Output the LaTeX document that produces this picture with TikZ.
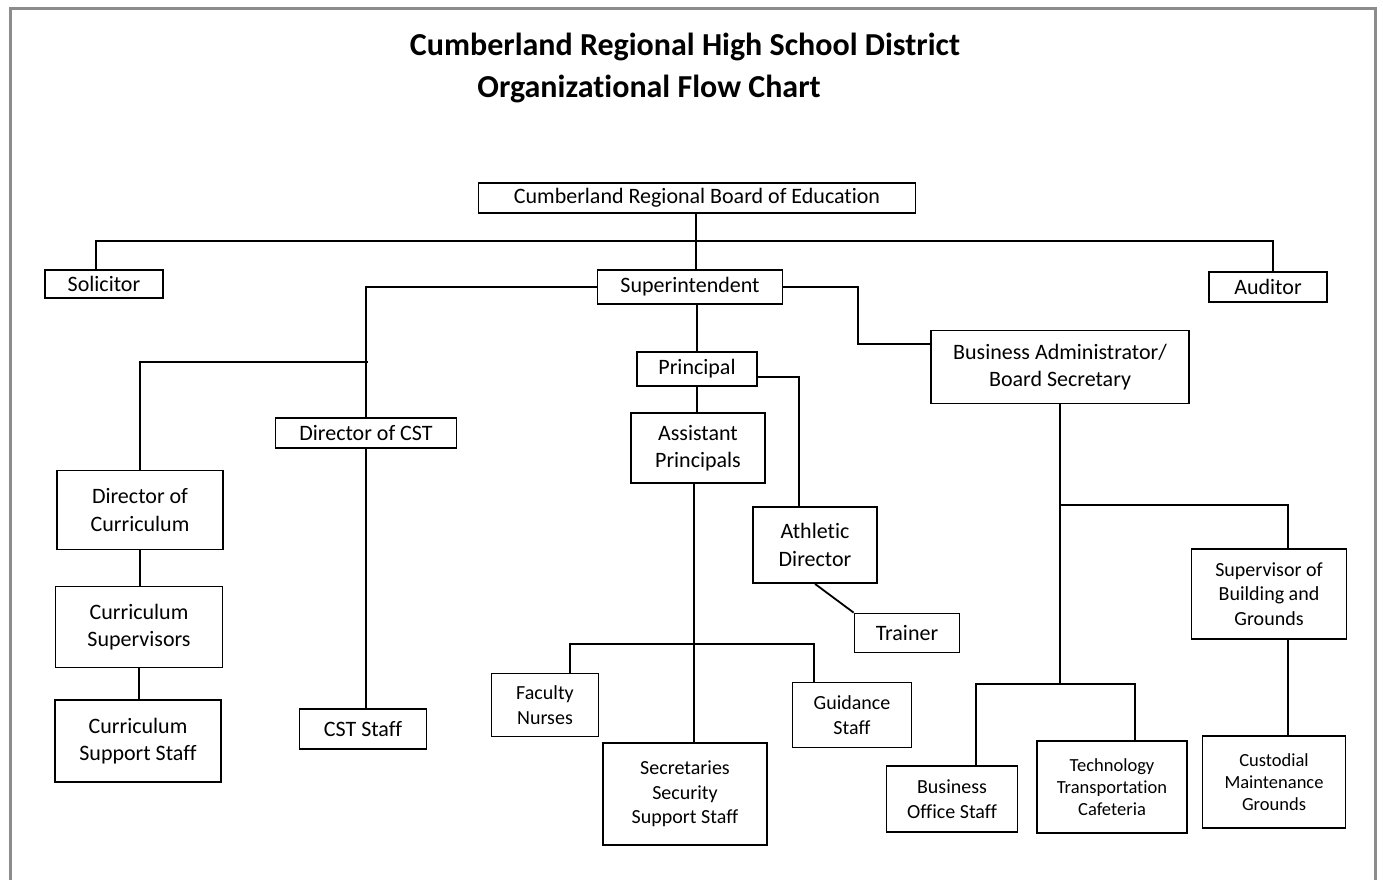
\documentclass[tikz,border=0pt]{standalone}
\usepackage{fontspec}
\setmainfont{Carlito}[Ligatures=NoCommon]
\tikzset{
  box/.style={draw, line width=1.8pt, align=center, inner sep=2pt,
    font=\fontsize{22}{27.5}\selectfont},
  sbox/.style={box, font=\fontsize{20}{24.5}\selectfont},
  tbox/.style={box, font=\fontsize{18.5}{22}\selectfont},
  title/.style={font=\bfseries\fontsize{32}{38}\selectfont, inner sep=0pt},
  link/.style={line width=1.8pt},
}
\begin{document}
\begin{tikzpicture}[x=1pt, y=-1pt]
  \useasboundingbox (0,0) rectangle (1383,880);
  % scanned page edge
  \draw[black!45, line width=3pt] (10,880) -- (10,9) -- (1375,9) -- (1375,880);

  \node[title, anchor=base] (t1) at (685,56) {Cumberland Regional High School District};
  \node[title, anchor=base] (t2) at (649,98) {Organizational Flow Chart};

  \node[box, minimum width=437, minimum height=30] (board) at (697,198) {Cumberland Regional Board of Education};
  \node[box, minimum width=118, minimum height=28] (sol) at (104,284) {Solicitor};
  \node[box, minimum width=118, minimum height=30] (aud) at (1268,287) {Auditor};
  \node[box, minimum width=185, minimum height=34] (sup) at (690,287) {Superintendent};
  \node[box, minimum width=181, minimum height=30] (dcst) at (366,433) {Director of CST};
  \node[box, minimum width=166, minimum height=79] (dcur) at (140,510) {Director of\\Curriculum};
  \node[box, minimum width=167, minimum height=81] (csup) at (139,627) {Curriculum\\Supervisors};
  \node[box, minimum width=166, minimum height=82] (cstaff) at (138,741) {Curriculum\\Support Staff};
  \node[box, minimum width=127, minimum height=40] (cststaff) at (363,729) {CST Staff};
  \node[box, minimum width=120, minimum height=34] (prin) at (697,369) {Principal};
  \node[box, minimum width=134, minimum height=70] (ap) at (698,448) {Assistant\\Principals};
  \node[box, minimum width=124, minimum height=76] (ad) at (815,545) {Athletic\\Director};
  \node[box, minimum width=105, minimum height=39] (trainer) at (907,633) {Trainer};
  \node[sbox, minimum width=107, minimum height=63] (fac) at (545,705) {Faculty\\Nurses};
  \node[sbox, minimum width=119, minimum height=65] (guid) at (852,715) {Guidance\\Staff};
  \node[sbox, minimum width=164, minimum height=102] (sec) at (685,794) {Secretaries\\Security\\Support Staff};
  \node[box, minimum width=258, minimum height=73] (ba) at (1060,367) {Business Administrator/\\Board Secretary};
  \node[sbox, minimum width=155, minimum height=90] (sbg) at (1269,594) {Supervisor of\\Building and\\Grounds};
  \node[sbox, minimum width=131, minimum height=66] (bos) at (952,799) {Business\\Office Staff};
  \node[tbox, minimum width=150, minimum height=92] (tech) at (1112,787) {Technology\\Transportation\\Cafeteria};
  \node[tbox, minimum width=143, minimum height=92] (cust) at (1274,782) {Custodial\\Maintenance\\Grounds};

  \coordinate (jbar) at (696,241);
  \coordinate (jcur) at (368,362);
  \coordinate (jba) at (858,344);
  \coordinate (jfac) at (694,644);
  \coordinate (jsbg) at (1060,505);
  \coordinate (jbos) at (1060,684);

  \begin{scope}[link]
    \draw (board.south -| jbar) -- (sup.north -| jbar);
    \draw ([xshift=-8]sol.north) |- (jbar) -| ([xshift=5]aud.north);
    \draw (sup.west) -| (dcst.north);
    \draw (jcur) -| (dcur.north);
    \draw (dcur.south) -- (dcur.south |- csup.north);
    \draw (csup.south) -- (csup.south |- cstaff.north);
    \draw (dcst.south) -- (dcst.south |- cststaff.north);
    \draw (prin.north |- sup.south) -- (prin.north);
    \draw (prin.south) -- (prin.south |- ap.north);
    \draw ([yshift=-8]prin.east) -| ([xshift=-16]ad.north);
    \draw (ad.south) -- (trainer.north west);
    \draw (ap.south -| jfac) -- (sec.north -| jfac);
    \draw ([xshift=25]fac.north) |- (jfac) -| ([xshift=-38]guid.north);
    \draw (sup.east) -| (jba) -- (jba -| ba.west);
    \draw (ba.south) -- (jbos);
    \draw (jsbg) -| ([xshift=19]sbg.north);
    \draw ([xshift=24]bos.north) |- (jbos) -| ([xshift=23]tech.north);
    \draw ([xshift=19]sbg.south) -- ([xshift=14]cust.north);
  \end{scope}
\end{tikzpicture}
\end{document}
